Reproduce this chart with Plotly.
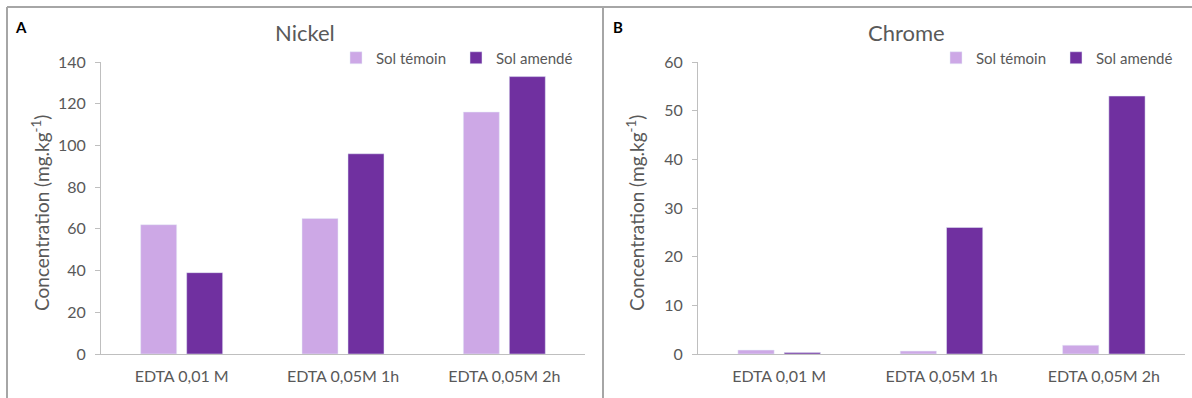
import plotly.graph_objects as go

W, H = 1192, 398
categories = ["EDTA 0,01 M", "EDTA 0,05M 1h", "EDTA 0,05M 2h"]
series_names = ["Sol témoin", "Sol amendé"]
nickel_temoin = [62, 65, 116]
nickel_amende = [39, 96, 133]
chrome_temoin = [0.8, 0.6, 1.8]
chrome_amende = [0.3, 26, 53]
nickel_ticks = [0, 20, 40, 60, 80, 100, 120, 140]
chrome_ticks = [0, 10, 20, 30, 40, 50, 60]

C_LIGHT = "#CDA8E6"
C_DARK = "#7030A0"
GRAY = "#595959"
FONT = "Lato, 'Open Sans', sans-serif"

def px(x):
    return x / W

def py(y):
    return 1 - y / H

fig = go.Figure()
fig.add_trace(go.Bar(x=categories, y=nickel_temoin, name=series_names[0], marker_color=C_LIGHT,
                     xaxis="x", yaxis="y", legend="legend"))
fig.add_trace(go.Bar(x=categories, y=nickel_amende, name=series_names[1], marker_color=C_DARK,
                     xaxis="x", yaxis="y", legend="legend"))
fig.add_trace(go.Bar(x=categories, y=chrome_temoin, name=series_names[0], marker_color=C_LIGHT,
                     xaxis="x2", yaxis="y2", legend="legend2"))
fig.add_trace(go.Bar(x=categories, y=chrome_amende, name=series_names[1], marker_color=C_DARK,
                     xaxis="x2", yaxis="y2", legend="legend2"))

ydom = [py(354), py(62)]
axis_common = dict(showline=True, linecolor="#BFBFBF", linewidth=1, showgrid=False, zeroline=False,
                   tickfont=dict(family=FONT, size=16, color=GRAY))
xcommon = dict(axis_common, ticks="", tickfont=dict(family=FONT, size=16, color=GRAY), ticklabelstandoff=8)
ycommon = dict(axis_common, ticks="outside", ticklen=5, tickcolor="#BFBFBF", ticklabelstandoff=6)

leg_font = dict(family=FONT, size=15, color=GRAY)

def ann(text, x, y, size, color=GRAY, angle=0):
    return dict(text=text, x=px(x), y=py(y), xref="paper", yref="paper", showarrow=False,
                xanchor="center", yanchor="middle", textangle=angle,
                font=dict(family=FONT, size=size, color=color))

fig.update_layout(
    width=W, height=H,
    margin=dict(l=0, r=0, t=0, b=0, autoexpand=False),
    paper_bgcolor="white", plot_bgcolor="white",
    barmode="group", bargap=0.43, bargroupgap=0.217,
    font=dict(family=FONT, color=GRAY),
    xaxis=dict(xcommon, domain=[px(101), px(585)], anchor="y"),
    yaxis=dict(ycommon, domain=ydom, range=[0, 140], tickvals=nickel_ticks, anchor="x"),
    xaxis2=dict(xcommon, domain=[px(698), px(1185)], anchor="y2"),
    yaxis2=dict(ycommon, domain=ydom, range=[0, 60], tickvals=chrome_ticks, anchor="x2"),
    legend=dict(orientation="h", x=px(336), y=py(58), xanchor="left", yanchor="middle",
                font=leg_font, itemwidth=30, entrywidth=75, bgcolor="rgba(0,0,0,0)", tracegroupgap=0),
    legend2=dict(orientation="h", x=px(936), y=py(58), xanchor="left", yanchor="middle",
                 font=leg_font, itemwidth=30, entrywidth=75, bgcolor="rgba(0,0,0,0)", tracegroupgap=0),
    shapes=[
        dict(type="line", xref="paper", yref="paper", x0=px(7), x1=1, y0=py(7), y1=py(7),
             line=dict(color="#A6A6A6", width=2)),
        dict(type="line", xref="paper", yref="paper", x0=px(7), x1=px(7), y0=py(7), y1=0,
             line=dict(color="#A6A6A6", width=2)),
        dict(type="line", xref="paper", yref="paper", x0=px(603), x1=px(603), y0=py(7), y1=0,
             line=dict(color="#A6A6A6", width=2)),
    ],
    annotations=[
        ann("<b>A</b>", 21, 27, 15, "black"),
        ann("<b>B</b>", 618, 27, 15, "black"),
        ann("Nickel", 305, 33, 22),
        ann("Chrome", 906, 33, 22),
        ann("Concentration (mg.kg<sup>-1</sup>)", 40, 213, 19, angle=-90),
        ann("Concentration (mg.kg<sup>-1</sup>)", 635, 213, 19, angle=-90),
    ],
)

fig.write_html("out.html", post_script="document.body.style.margin='0';",
               config={"displayModeBar": False})
